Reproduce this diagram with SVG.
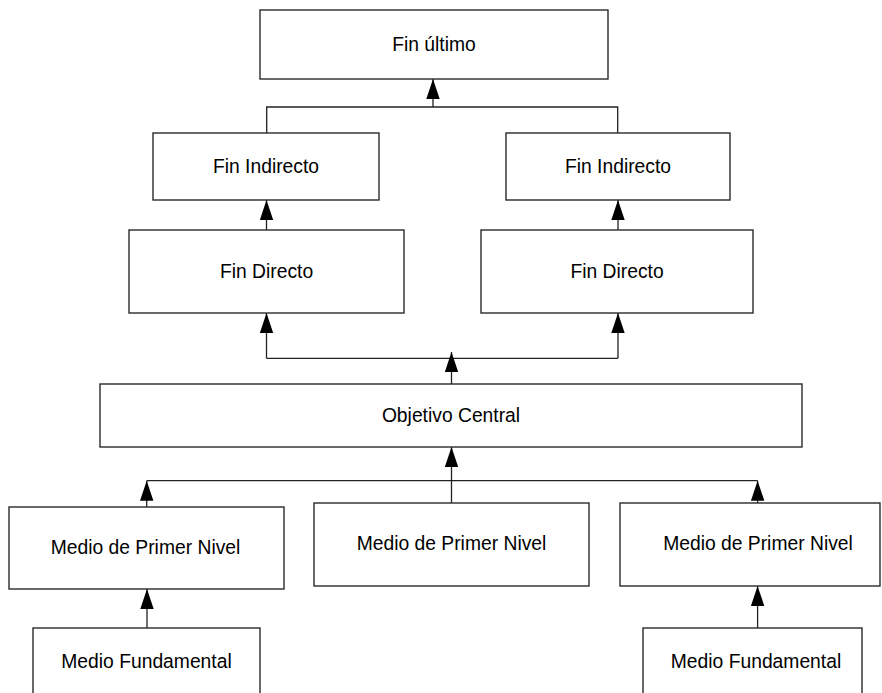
<svg xmlns="http://www.w3.org/2000/svg" width="882" height="693" viewBox="0 0 882 693">
  <defs>
    <marker id="arrow" markerUnits="userSpaceOnUse" markerWidth="21" markerHeight="14" viewBox="0 0 21 14" refX="20" refY="7" orient="auto">
      <path d="M0,0.3 L20,7 L0,13.7 Z" fill="#000"/>
    </marker>
  </defs>
  <style>
    .box { fill: #fff; stroke: #2a2a2a; stroke-width: 1.4; }
    .lbl { font-family: "Liberation Sans", Arial, sans-serif; font-size: 19.3px; fill: #000; text-anchor: middle; }
    .wire { fill: none; stroke: #222; stroke-width: 1.3; }
    .arr { marker-end: url(#arrow); }
  </style>
  <rect width="882" height="693" fill="#fff"/>

  <!-- connectors -->
  <g id="connectors">
    <polyline class="wire" points="266.7,133 266.7,107 617.7,107 617.7,133"/>
    <line class="wire arr" x1="433" y1="107" x2="433" y2="79"/>
    <line class="wire arr" x1="266.5" y1="230" x2="266.5" y2="200"/>
    <line class="wire arr" x1="618" y1="230" x2="618" y2="200"/>
    <polyline class="wire" points="266.5,358.3 618,358.3"/>
    <line class="wire arr" x1="266.5" y1="358.3" x2="266.5" y2="313"/>
    <line class="wire arr" x1="618" y1="358.3" x2="618" y2="313"/>
    <line class="wire arr" x1="451.5" y1="384" x2="451.5" y2="352"/>
    <polyline class="wire" points="146.7,480.7 757.6,480.7"/>
    <line class="wire arr" x1="146.7" y1="507" x2="146.7" y2="480.7"/>
    <line class="wire arr" x1="757.6" y1="503" x2="757.6" y2="480.7"/>
    <line class="wire arr" x1="451.5" y1="503" x2="451.5" y2="447"/>
    <line class="wire arr" x1="147" y1="628" x2="147" y2="589"/>
    <line class="wire arr" x1="757.6" y1="628" x2="757.6" y2="586"/>
  </g>

  <g id="fin-ultimo">
    <rect class="box" x="260" y="10" width="348" height="69"/>
    <text class="lbl" x="434" y="51">Fin último</text>
  </g>
  <g id="fin-indirecto-1">
    <rect class="box" x="153" y="133" width="226" height="67"/>
    <text class="lbl" x="266" y="173">Fin Indirecto</text>
  </g>
  <g id="fin-indirecto-2">
    <rect class="box" x="506" y="133" width="224" height="67"/>
    <text class="lbl" x="618" y="173">Fin Indirecto</text>
  </g>
  <g id="fin-directo-1">
    <rect class="box" x="129" y="230" width="275" height="83"/>
    <text class="lbl" x="266.5" y="278">Fin Directo</text>
  </g>
  <g id="fin-directo-2">
    <rect class="box" x="481" y="230" width="272" height="83"/>
    <text class="lbl" x="617" y="278">Fin Directo</text>
  </g>
  <g id="objetivo-central">
    <rect class="box" x="100" y="384" width="702" height="63"/>
    <text class="lbl" x="451" y="422">Objetivo Central</text>
  </g>
  <g id="medio-primer-nivel-1">
    <rect class="box" x="9" y="507" width="275" height="82"/>
    <text class="lbl" x="145.5" y="554">Medio de Primer Nivel</text>
  </g>
  <g id="medio-primer-nivel-2">
    <rect class="box" x="314" y="503" width="275" height="83"/>
    <text class="lbl" x="451.5" y="550">Medio de Primer Nivel</text>
  </g>
  <g id="medio-primer-nivel-3">
    <rect class="box" x="620" y="503" width="260" height="83"/>
    <text class="lbl" x="758" y="550">Medio de Primer Nivel</text>
  </g>
  <g id="medio-fundamental-1">
    <rect class="box" x="33" y="628" width="227" height="72"/>
    <text class="lbl" x="146.5" y="668">Medio Fundamental</text>
  </g>
  <g id="medio-fundamental-2">
    <rect class="box" x="643" y="628" width="219" height="72"/>
    <text class="lbl" x="756" y="668">Medio Fundamental</text>
  </g>
</svg>
